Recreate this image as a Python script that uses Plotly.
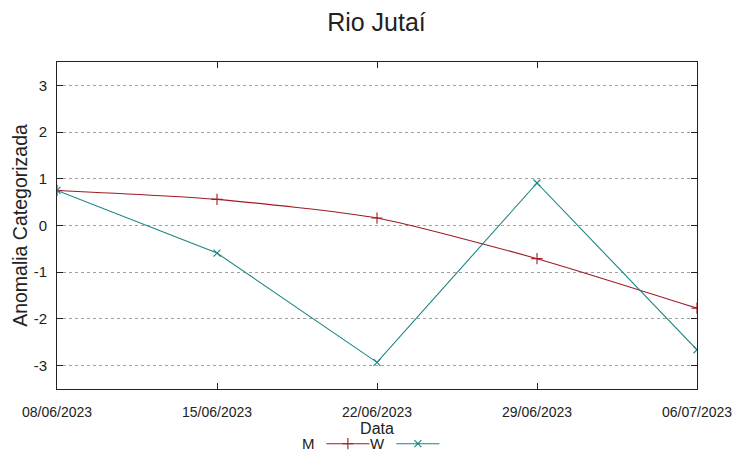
import plotly.graph_objects as go

dates = ["2023-06-08", "2023-06-15", "2023-06-22", "2023-06-29", "2023-07-06"]
date_labels = ["08/06/2023", "15/06/2023", "22/06/2023", "29/06/2023", "06/07/2023"]
m_values = [0.75, 0.56, 0.16, -0.71, -1.77]
w_values = [0.75, -0.59, -2.93, 0.91, -2.66]
y_ticks = [-3, -2, -1, 0, 1, 2, 3]
y_labels = ["-3", "-2", "-1", "0", "1", "2", "3"]

red = "#9e1c22"
teal = "#1c8484"
font = "Liberation Sans"

# page body has an 8px default margin; figure size compensates for it
W, H = 745, 451

fig = go.Figure()
fig.add_trace(go.Scatter(
    x=dates, y=m_values, name="", mode="lines+markers",
    line=dict(color=red, width=1.1, shape="spline", smoothing=0.6),
    marker=dict(symbol="cross-thin", size=8, line=dict(color=red, width=1.1), color=red),
))
fig.add_trace(go.Scatter(
    x=dates, y=w_values, name="", mode="lines+markers",
    line=dict(color=teal, width=1.1),
    marker=dict(symbol="x-thin", size=7, line=dict(color=teal, width=1.1), color=teal),
))

fig.update_layout(
    width=W, height=H,
    margin=dict(l=49, r=56, t=54, b=70, autoexpand=False),
    paper_bgcolor="white", plot_bgcolor="white",
    font=dict(family=font, color="#222222"),
    title=dict(text="Rio Jutaí", x=0.5 - 4 / W, xanchor="center", xref="container", yref="container",
               y=1 - 14 / H, yanchor="middle",
               font=dict(size=25, family=font, color="#222222")),
    showlegend=True,
    legend=dict(orientation="h", x=0.4131, xanchor="left", y=-0.168, yanchor="middle",
                font=dict(size=15, family=font), itemwidth=43, itemclick=False,
                entrywidth=12, entrywidthmode="pixels",
                bgcolor="rgba(0,0,0,0)", tracegroupgap=0),
    xaxis=dict(
        type="date", range=[dates[0], dates[-1]], automargin=False,
        tickmode="array", tickvals=dates, ticktext=date_labels,
        ticks="inside", ticklen=6, tickcolor="#222222",
        showline=True, linecolor="#222222", linewidth=1, mirror="ticks",
        showgrid=False, zeroline=False,
        tickfont=dict(size=14, family=font, color="#222222"),
        ticklabelstandoff=10,
        title=dict(text="Data", font=dict(size=16, family=font, color="#222222"), standoff=0),
    ),
    yaxis=dict(
        range=[-3.5, 3.5], tickmode="array", tickvals=y_ticks, ticktext=y_labels,
        automargin=False,
        ticks="inside", ticklen=6, tickcolor="#222222",
        showline=True, linecolor="#222222", linewidth=1, mirror="ticks",
        showgrid=True, gridcolor="#a0a0a0", griddash="dot", gridwidth=1,
        zeroline=False,
        tickfont=dict(size=15, family=font, color="#222222"),
        ticklabelstandoff=6,
        title=dict(text="Anomalia Categorizada", font=dict(size=19.5, family=font, color="#222222"), standoff=0),
    ),
    annotations=[
        dict(text="M", xref="paper", yref="paper", x=(308 - 57) / 640, y=-0.168,
             xanchor="center", yanchor="middle", showarrow=False,
             font=dict(size=15, family=font, color="#222222")),
        dict(text="W", xref="paper", yref="paper", x=(377 - 57) / 640, y=-0.168,
             xanchor="center", yanchor="middle", showarrow=False,
             font=dict(size=15, family=font, color="#222222")),
    ],
)

fig.write_html("out.html")
